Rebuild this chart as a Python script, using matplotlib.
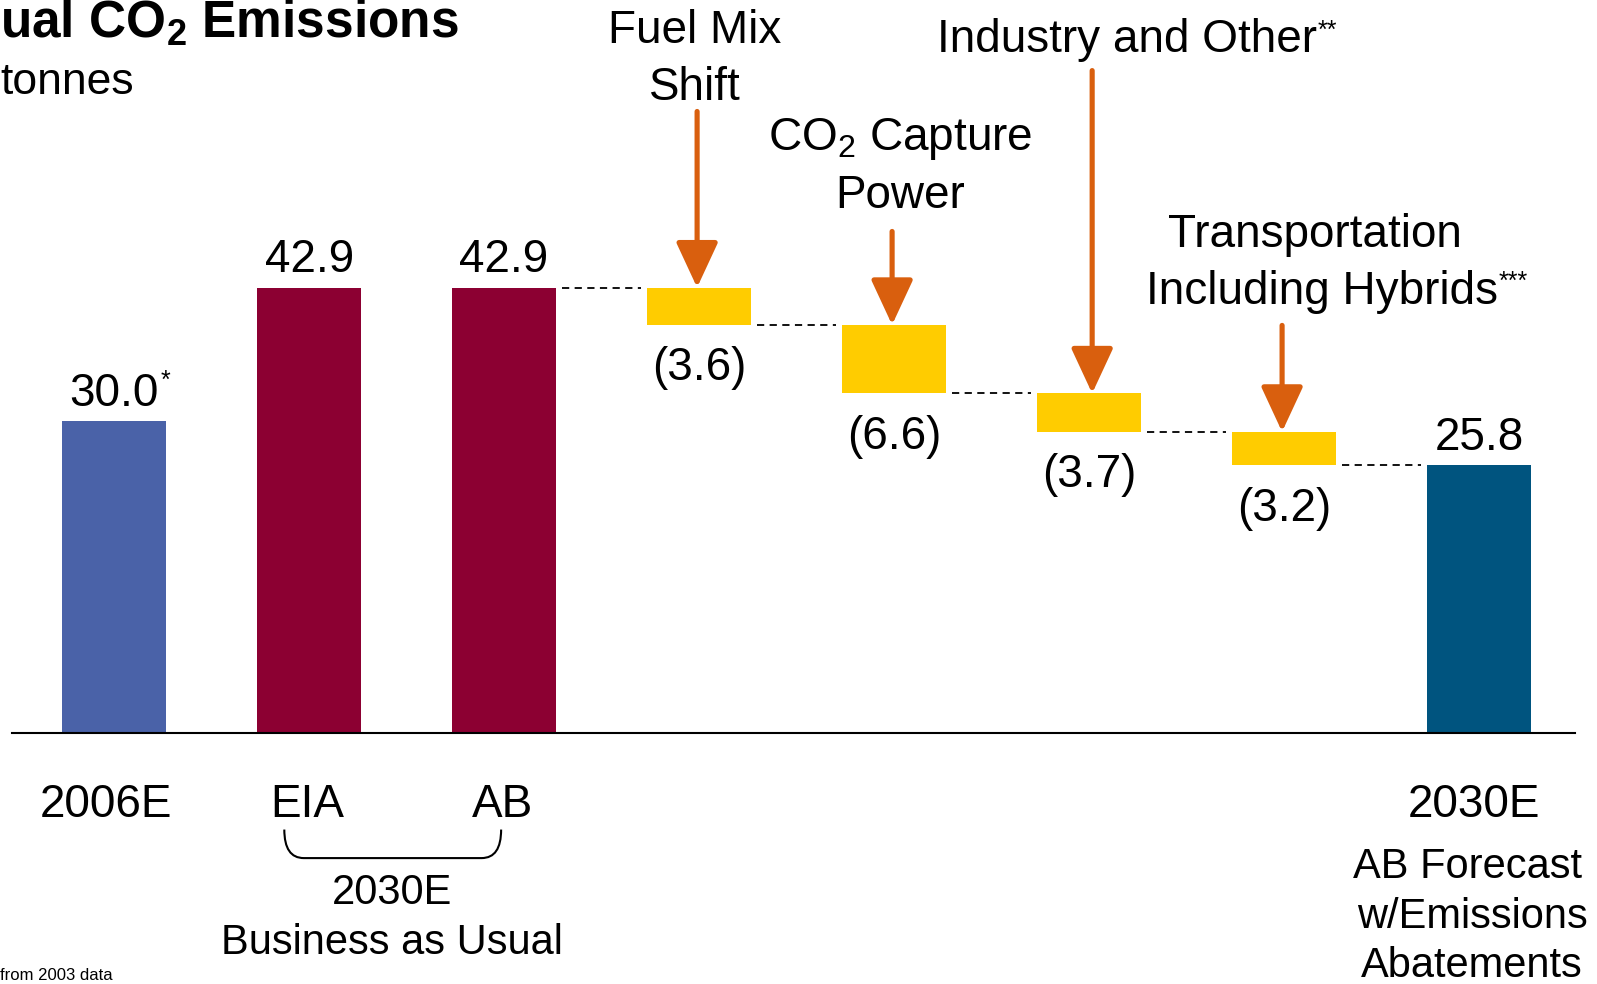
import matplotlib.pyplot as plt
from matplotlib.path import Path
from matplotlib.patches import PathPatch
import numpy as np

plt.rcParams['font.family'] = ['Liberation Sans', 'DejaVu Sans']
plt.rcParams['mathtext.fontset'] = 'custom'
plt.rcParams['mathtext.rm'] = 'Liberation Sans'
plt.rcParams['mathtext.bf'] = 'Liberation Sans:bold'

# data
TOTAL_LABELS = ["2006E", "EIA", "AB"]
TOTAL_VALUES = [30.0, 42.9, 42.9]
STEP_NAMES = [["Fuel Mix", "Shift"], ["CO$_2$ Capture", "Power"],
              ["Industry and Other"], ["Transportation", "Including Hybrids"]]
STEP_STARS = ["", "", "**", "***"]
STEP_VALUES = [3.6, 6.6, 3.7, 3.2]
FINAL_LABEL = "2030E"
FINAL_VALUE = 25.8
FINAL_NOTE = ["AB Forecast", "w/Emissions", "Abatements"]
BAU_NOTE = ["2030E", "Business as Usual"]

BLUE = "#4A62A8"
RED = "#8C0032"
YELLOW = "#FFCC00"
TEAL = "#00547F"
ORANGE = "#D95F0E"
W = 0.533
BIG = 33
SMALL = 30

fig = plt.figure(figsize=(15.97, 9.84), dpi=100)
ax = fig.add_axes([0, 0, 1, 1])
ax.set_xlim(-0.585, 7.605)
ax.set_ylim(-24.2, 70.6)
ax.axis('off')

# totals on the left
tot_x = np.arange(len(TOTAL_VALUES))
ax.bar(tot_x, TOTAL_VALUES, W, color=[BLUE, RED, RED])
for x, v in zip(tot_x, TOTAL_VALUES):
    t = ax.text(x, v + 1.5, "%.1f" % v, ha='center', va='baseline', fontsize=BIG)
    if x == 0:
        ax.annotate("*", xy=(1, 1), xycoords=t, xytext=(1, 2), textcoords='offset points',
                    ha='left', va='top', fontsize=18)

# waterfall steps
step_x = np.arange(len(STEP_VALUES)) + len(TOTAL_VALUES)
tops = TOTAL_VALUES[-1] - np.concatenate([[0], np.cumsum(STEP_VALUES)[:-1]])
bottoms = tops - np.array(STEP_VALUES)
ax.bar(step_x, STEP_VALUES, W, bottom=bottoms, color=YELLOW)
for x, b, v in zip(step_x, bottoms, STEP_VALUES):
    ax.text(x, b - 4.2, "(%.1f)" % v, ha='center', va='center', fontsize=BIG)

# final bar
fin_x = len(TOTAL_VALUES) + len(STEP_VALUES)
ax.bar(fin_x, FINAL_VALUE, W, color=TEAL)
ax.text(fin_x, FINAL_VALUE + 1.4, "%.1f" % FINAL_VALUE, ha='center', va='baseline', fontsize=BIG)

# dashed connectors
levels = list(tops) + [FINAL_VALUE]
starts = [tot_x[-1]] + list(step_x)
for x0, lv in zip(starts, levels):
    ax.plot([x0 + W / 2 + 0.03, x0 + 1 - W / 2 - 0.03], [lv, lv], color='black',
            lw=1.3, ls=(0, (4, 3)))

# baseline
ax.plot([-0.523, 7.49], [0, 0], color='black', lw=1.5)

# step labels and arrows
name_x = [[2.98, 2.98], [4.03, 4.03], [5.196], [6.16, 6.196]]
name_y = [67.6, 57.2, 66.7, 48.0]
LINE_GAP = 5.5
arrow_x = [2.99, 3.99, 5.016, 5.99]
arrow_start = [59.86, 48.3, 63.8, 39.25]
for i, (lines, star) in enumerate(zip(STEP_NAMES, STEP_STARS)):
    for j, line in enumerate(lines):
        t = ax.text(name_x[i][j], name_y[i] - j * LINE_GAP, line, ha='center', va='center',
                    fontsize=BIG)
    if star:
        ax.annotate(star, xy=(1, 1), xycoords=t, xytext=(0, 0), textcoords='offset points',
                    ha='left', va='top', fontsize=18)
    ax.annotate("", xy=(arrow_x[i], tops[i]), xytext=(arrow_x[i], arrow_start[i]),
                arrowprops=dict(arrowstyle='-|>,head_length=1.4,head_width=0.65',
                                mutation_scale=20, lw=3.7, color=ORANGE,
                                shrinkA=0, shrinkB=0))

# category labels
cat_x = [-0.04, 0.99, 1.99]
for x, lab in zip(cat_x, TOTAL_LABELS):
    ax.text(x, -6.95, lab, ha='center', va='center', fontsize=BIG)
ax.text(6.975, -6.95, FINAL_LABEL, ha='center', va='center', fontsize=BIG)

# brace under EIA / AB
x0, x1, y0, y1 = 0.873, 1.985, -9.32, -12.07
verts = [(x0, y0), (x0, y1), (x0 + 0.1, y1), (x1 - 0.1, y1), (x1, y1), (x1, y0)]
codes = [Path.MOVETO, Path.CURVE3, Path.CURVE3, Path.LINETO, Path.CURVE3, Path.CURVE3]
ax.add_patch(PathPatch(Path(verts, codes), fill=False, lw=1.5, color='black'))
for j, line in enumerate(BAU_NOTE):
    ax.text(1.426, -15.4 - j * 4.85, line, ha='center', va='center', fontsize=SMALL)
note_x = [6.94, 6.965, 6.965]
for j, line in enumerate(FINAL_NOTE):
    ax.text(note_x[j], -12.9 - j * 4.8, line, ha='center', va='center', fontsize=SMALL)

# title pieces (cropped in the original)
fig.text(0.0, 0.962, r"ual CO$_\mathbf{2}$ Emissions", ha='left', va='baseline',
         fontsize=37, fontweight='bold')
fig.text(0.0, 0.9045, "tonnes", ha='left', va='baseline', fontsize=32)
fig.text(0.0, 0.001, "from 2003 data", ha='left', va='bottom', fontsize=12)

fig.savefig("out.png", dpi=100)
